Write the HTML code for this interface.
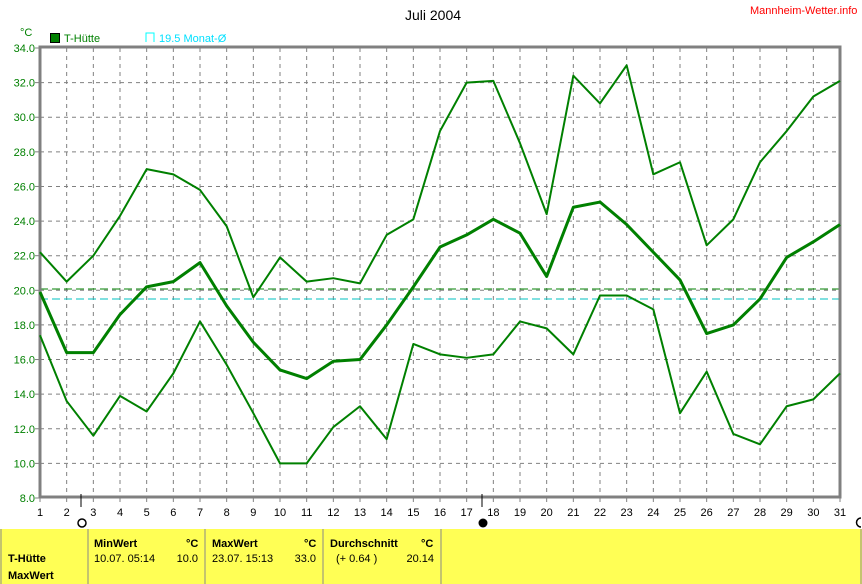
<!DOCTYPE html>
<html><head><meta charset="utf-8"><style>
body{margin:0;width:862px;height:584px;background:#fff;overflow:hidden;font-family:"Liberation Sans",sans-serif;}
svg{position:absolute;left:0;top:0}
</style></head><body>
<svg id="s" width="862" height="584" xmlns="http://www.w3.org/2000/svg" font-family="Liberation Sans, sans-serif">
<text x="433" y="20" font-size="14" text-anchor="middle" fill="#000">Juli 2004</text>
<text x="750" y="14" font-size="11" fill="#ff0000">Mannheim-Wetter.info</text>
<text x="20" y="36" font-size="11" fill="#008000">°C</text>
<rect x="50.5" y="33.5" width="9" height="9" fill="#008000" stroke="#000"/>
<text x="64" y="42" font-size="11" fill="#008000">T-Hütte</text>
<path d="M146 42V33h8v9" fill="none" stroke="#00ffff"/>
<text x="159" y="42" font-size="11" fill="#00e0ff">19.5 Monat-Ø</text>
<g id="grid" stroke="#808080" stroke-dasharray="4,4" stroke-width="1"></g>
<g id="yl" font-size="11" fill="#008000" text-anchor="end"></g>
<g id="xl" font-size="11" fill="#000" text-anchor="middle"></g>
<line x1="40" y1="289" x2="840" y2="289" stroke="#008000" stroke-dasharray="8,4"/>
<line x1="40" y1="299" x2="840" y2="299" stroke="#00c0c0" stroke-dasharray="8,4"/>
<path d="M40 47H840V497H40Z" fill="none" stroke="#808080" stroke-width="3"/>
<g id="lines" fill="none" stroke="#008000" stroke-linejoin="round"></g>
<line x1="81" y1="494" x2="81" y2="507" stroke="#000"/>
<line x1="482" y1="494" x2="482" y2="507" stroke="#000"/>
<circle cx="82" cy="523" r="4" fill="none" stroke="#000" stroke-width="1.5"/>
<circle cx="483" cy="523" r="4.5" fill="#000"/>
<path d="M861 518a4 4 0 0 0 0 9" fill="none" stroke="#000" stroke-width="1.5"/>
<rect x="0" y="529" width="862" height="55" fill="#ffff55"/>
<line x1="88" y1="529" x2="88" y2="584" stroke="#888"/>
<line x1="205" y1="529" x2="205" y2="584" stroke="#888"/>
<line x1="323" y1="529" x2="323" y2="584" stroke="#888"/>
<line x1="441" y1="529" x2="441" y2="584" stroke="#888"/>
<line x1="1" y1="529" x2="1" y2="584" stroke="#888"/>
<line x1="861" y1="529" x2="861" y2="584" stroke="#888"/>
<g font-size="11" fill="#000">
<text x="8" y="562" font-weight="bold">T-Hütte</text>
<text x="8" y="579" font-weight="bold">MaxWert</text>
<text x="94" y="547" font-weight="bold">MinWert</text>
<text x="186" y="547" font-weight="bold">°C</text>
<text x="94" y="562">10.07.  05:14</text>
<text x="198" y="562" text-anchor="end">10.0</text>
<text x="212" y="547" font-weight="bold">MaxWert</text>
<text x="304" y="547" font-weight="bold">°C</text>
<text x="212" y="562">23.07.  15:13</text>
<text x="316" y="562" text-anchor="end">33.0</text>
<text x="330" y="547" font-weight="bold">Durchschnitt</text>
<text x="421" y="547" font-weight="bold">°C</text>
<text x="336" y="562">(+ 0.64 )</text>
<text x="434" y="562" text-anchor="end">20.14</text>
</g>
</svg>
<script>
var NS="http://www.w3.org/2000/svg";
function X(d){return 40+(d-1)*800/30}
function Y(v){return 48+(34-v)*450/26}
function el(t,a,p,txt){var e=document.createElementNS(NS,t);for(var k in a)e.setAttribute(k,a[k]);if(txt)e.textContent=txt;document.getElementById(p).appendChild(e);}
for(var d=2;d<=30;d++)el("line",{x1:X(d),y1:48,x2:X(d),y2:497},"grid");
for(var v=10;v<=32;v+=2)el("line",{x1:40,y1:Y(v),x2:840,y2:Y(v)},"grid");
for(var v=8;v<=34;v+=2){el("text",{x:35,y:Y(v)+4},"yl",v.toFixed(1));el("line",{x1:35,y1:Y(v),x2:40,y2:Y(v),stroke:"#808080"},"grid");}
for(var d=1;d<=31;d++){el("text",{x:X(d),y:516},"xl",""+d);el("line",{x1:X(d),y1:497,x2:X(d),y2:502,stroke:"#808080","stroke-dasharray":"none"},"grid");}
var mx=[22.2,20.5,22.0,24.3,27.0,26.7,25.8,23.7,19.6,21.9,20.5,20.7,20.4,23.2,24.1,29.2,32.0,32.1,28.5,24.4,32.4,30.8,33.0,26.7,27.4,22.6,24.1,27.4,29.2,31.2,32.1];
var mn=[17.4,13.6,11.6,13.9,13.0,15.2,18.2,15.7,12.9,10.0,10.0,12.1,13.3,11.4,16.9,16.3,16.1,16.3,18.2,17.8,16.3,19.7,19.7,18.9,12.9,15.3,11.7,11.1,13.3,13.7,15.2];
var av=[19.9,16.4,16.4,18.6,20.2,20.5,21.6,19.1,17.0,15.4,14.9,15.9,16.0,18.0,20.2,22.5,23.2,24.1,23.3,20.8,24.8,25.1,23.8,22.2,20.6,17.5,18.0,19.5,21.9,22.8,23.8];
function pl(a,w){el("polyline",{points:a.map(function(v,i){return X(i+1)+","+Y(v)}).join(" "),"stroke-width":w},"lines");}
pl(mx,2);pl(mn,2);pl(av,3);
</script>
</body></html>
